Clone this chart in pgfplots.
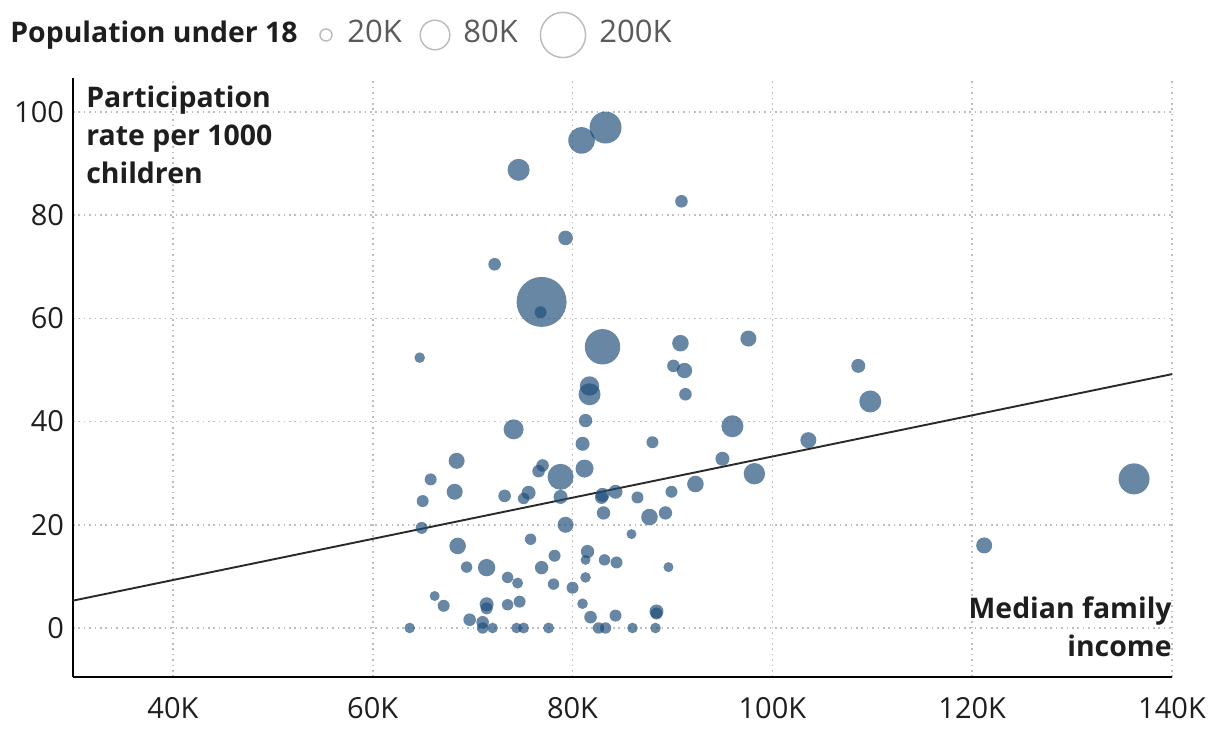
\documentclass[border=0pt]{standalone}
\usepackage{fontspec}
\setmainfont{Open Sans}
\usepackage{pgfplots}
\usepackage{pgfplotstable}
\pgfplotsset{compat=1.18}

\definecolor{bubble}{HTML}{1F4E79}
\definecolor{gridc}{HTML}{BEBEBE}
\definecolor{txt}{HTML}{1E1E1E}
\definecolor{legtxt}{HTML}{5A5A5A}
\definecolor{legc}{HTML}{BDBDBD}

% median family income (K), participation rate per 1000, population under 18 (K)
\pgfplotstableread{
inc rate pop
83.3 97.0 97.5
80.9 94.5 67.4
74.6 88.8 46.1
90.9 82.7 15.1
79.3 75.6 20.3
72.2 70.5 15.1
76.9 63.2 238.1
76.8 61.2 13.7
83.0 54.5 119.4
90.8 55.2 26.2
64.7 52.4 10.7
97.6 56.1 24.4
90.1 50.8 15.1
91.2 49.9 22.6
91.3 45.3 15.1
81.7 46.9 35.9
81.7 45.3 46.1
108.6 50.8 18.7
109.8 43.9 46.1
81.3 40.2 17.1
74.1 38.5 38.1
96.0 39.1 46.1
81.0 35.7 18.7
88.0 36.0 13.7
103.6 36.4 24.4
68.4 32.4 24.4
95.0 32.8 18.7
65.8 28.8 13.7
68.2 26.4 24.4
65.0 24.6 13.7
64.9 19.4 13.7
77.0 31.5 15.1
76.6 30.4 15.1
78.8 29.3 64.4
81.2 30.9 30.9
73.2 25.6 15.1
75.6 26.2 18.7
75.1 25.1 12.4
78.8 25.4 18.7
83.0 25.8 18.7
82.9 25.3 16.1
84.3 26.4 18.7
86.5 25.3 13.7
89.9 26.4 13.7
92.3 27.9 26.2
98.2 29.9 43.6
136.2 28.9 91.5
121.2 16.0 24.4
83.1 22.3 17.1
87.7 21.5 26.2
89.3 22.3 17.1
79.3 20.0 24.4
85.9 18.2 9.5
75.8 17.2 12.4
68.5 15.9 26.2
78.2 14.0 13.7
76.9 11.7 17.1
69.4 11.8 12.4
71.4 11.7 28.8
73.5 9.8 12.4
74.5 8.7 11.5
78.1 8.5 12.4
80.0 7.8 13.7
66.2 6.2 9.5
67.1 4.3 13.7
71.4 4.6 18.7
71.4 3.8 13.7
73.5 4.5 12.4
74.7 5.1 13.7
69.7 1.6 15.1
71.0 1.1 15.1
63.7 0.0 10.7
71.0 0.0 12.4
72.0 0.0 10.7
74.4 0.0 10.7
75.1 0.0 11.5
77.6 0.0 11.5
81.5 14.8 17.1
81.3 13.2 9.5
83.2 13.2 12.4
84.4 12.7 13.7
89.6 11.8 9.5
81.3 9.8 10.7
81.0 4.7 10.7
81.8 2.1 15.1
84.3 2.4 13.7
88.4 3.2 18.7
88.4 2.8 13.7
82.6 0.0 12.4
83.3 0.0 12.4
86.0 0.0 10.7
88.3 0.0 10.7
}\bubbles

\begin{document}
\begin{tikzpicture}
\begin{axis}[
  scale only axis,
  width=549.5pt, height=299.5pt,
  xmin=30, xmax=140, ymin=-9.5, ymax=106.6,
  axis x line*=bottom, axis y line*=left,
  x axis line style={line width=1.35pt, -, black},
  y axis line style={line width=1pt, -, black},
  xtick={40,60,...,140},
  xticklabels={40K,60K,80K,100K,120K,140K},
  ytick={0,20,...,100},
  major tick length=0pt,
  grid=major,
  major grid style={gridc, line width=0.8pt, dash pattern=on 0.8pt off 1.9pt},
  tick label style={font=\fontsize{14.5}{16}\selectfont, text=txt},
  /pgf/number format/assume math mode=true,
  xticklabel style={yshift=-6.5pt},
  yticklabel style={xshift=-1pt},
  clip=false,
]
\addplot[scatter, only marks, mark=*,
  point meta=\thisrow{pop},
  scatter/use mapped color={draw=bubble, fill=bubble},
  visualization depends on={0.81*sqrt(\thisrow{pop}) \as \rad},
  scatter/@pre marker code/.append style={/tikz/mark size=\rad pt},
  mark options={fill opacity=0.68, draw opacity=0, line width=0pt}]
  table[x=inc, y=rate] {\bubbles};
\addplot[txt!95, line width=0.95pt] coordinates {(30,5.3) (140,49.2)};
\coordinate (bl) at (rel axis cs:0,0);
\coordinate (tl) at (rel axis cs:0,1);
\coordinate (br) at (rel axis cs:1,0);
\coordinate (tr) at (rel axis cs:1,1);
\end{axis}

\node[anchor=north west, align=left, inner sep=0pt, text=txt,
  font=\fontsize{14.2}{19}\selectfont\bfseries]
  at ([xshift=6.5pt, yshift=-4pt]tl) {Participation\\rate per 1000\\children};
\node[anchor=south east, align=right, inner sep=0pt, text=txt,
  font=\fontsize{14.2}{19}\selectfont\bfseries]
  at ([yshift=10pt]br) {Median family\\income};

% size legend
\node[anchor=base west, inner sep=0pt, text=txt,
  font=\fontsize{14.2}{16}\selectfont\bfseries]
  at ([xshift=-31.5pt, yshift=17.5pt]tl) {Population under 18};
\draw[legc, line width=0.75pt] ([xshift=126.5pt, yshift=21.5pt]tl) circle[radius=3pt];
\draw[legc, line width=0.75pt] ([xshift=181pt, yshift=21.5pt]tl) circle[radius=7.4pt];
\draw[legc, line width=0.75pt] ([xshift=245pt, yshift=21.5pt]tl) circle[radius=11.3pt];
\foreach \dx/\lab in {137pt/20K, 195pt/80K, 263pt/200K}
  \node[anchor=base west, inner sep=0pt, text=legtxt,
    font=\fontsize{15.5}{16}\selectfont]
    at ([xshift=\dx, yshift=17.5pt]tl) {\lab};

\pgfresetboundingbox
\path ([xshift=-36.5pt, yshift=-30.5pt]bl) rectangle ([xshift=24pt, yshift=39pt]tr);
\end{tikzpicture}
\end{document}
